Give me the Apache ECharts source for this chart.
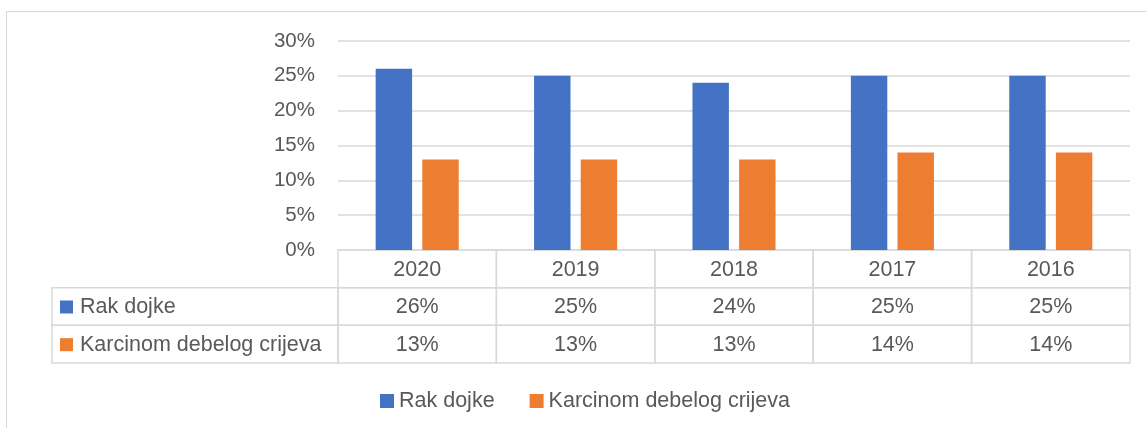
<!DOCTYPE html>
<html>
<head>
<meta charset="utf-8">
<script src="https://cdn.jsdelivr.net/npm/echarts@6/dist/echarts.min.js"></script>
<style>
html,body{margin:0;padding:0;background:#fff;}
#wrap{position:relative;width:1146px;height:428px;overflow:hidden;}
#chart{position:absolute;left:0;top:0;width:1146px;height:428px;}
#frame{position:absolute;left:6px;top:11px;width:1200px;height:500px;border:1px solid #d9d9d9;pointer-events:none;}
</style>
</head>
<body>
<div id="wrap"><div id="frame"></div><div id="chart"></div></div>
<script>
const categories = ['2020', '2019', '2018', '2017', '2016'];
const seriesNames = ['Rak dojke', 'Karcinom debelog crijeva'];
const rakDojke = [26, 25, 24, 25, 25];
const karcinom = [13, 13, 13, 14, 14];
const yTicks = [0, 5, 10, 15, 20, 25, 30];

const colors = ['#4472C4', '#ED7D31'];
const textColor = '#595959';
const borderColor = '#d9d9d9';
const fontFamily = '"Liberation Sans", Arial, sans-serif';
const fontSize = 21.5;
const smallFont = 20.5;

const valuesBySeries = [rakDojke, karcinom];
const rowKeys = ['header'].concat(seriesNames);

// table cells: [colIndex, rowIndex, text]
const cellData = [];
categories.forEach((c, i) => cellData.push([i, 0, c]));
valuesBySeries.forEach((vals, s) => vals.forEach((v, i) => cellData.push([i, s + 1, v + '%'])));
const labelData = seriesNames.map((n, s) => [0, s + 1, n, s]);

function cellRender(params, api) {
  const c = api.coord([api.value(0), api.value(1)]);
  const sz = api.size([1, 1]);
  return {
    type: 'group',
    children: [
      { type: 'rect', shape: { x: c[0] - sz[0] / 2, y: c[1] - sz[1] / 2, width: sz[0], height: sz[1] },
        style: { fill: 'none', stroke: borderColor, lineWidth: 1.5 } },
      { type: 'text', x: c[0], y: c[1] + 1,
        style: { text: cellData[params.dataIndex][2], fill: textColor, font: fontSize + 'px ' + fontFamily,
                 align: 'center', verticalAlign: 'middle' } }
    ]
  };
}
function labelRender(params, api) {
  const c = api.coord([api.value(0), api.value(1)]);
  const sz = api.size([1, 1]);
  const x0 = c[0] - sz[0] / 2;
  const d = labelData[params.dataIndex];
  return {
    type: 'group',
    children: [
      { type: 'rect', shape: { x: x0, y: c[1] - sz[1] / 2, width: sz[0], height: sz[1] },
        style: { fill: 'none', stroke: borderColor, lineWidth: 1.5 } },
      { type: 'rect', shape: { x: x0 + 8, y: c[1] - 6, width: 13, height: 13 },
        style: { fill: colors[d[3]] } },
      { type: 'text', x: x0 + 28, y: c[1] + 1,
        style: { text: d[2], fill: textColor, font: fontSize + 'px ' + fontFamily,
                 align: 'left', verticalAlign: 'middle' } }
    ]
  };
}

const chart = echarts.init(document.getElementById('chart'), null, { renderer: 'canvas' });
chart.setOption({
  animation: false,
  backgroundColor: 'transparent',
  textStyle: { fontFamily: fontFamily },
  legend: {
    data: seriesNames,
    left: 375, top: 385,
    itemWidth: 14, itemHeight: 14, itemGap: 35,
    icon: 'rect',
    textStyle: { fontSize: fontSize, color: textColor, fontFamily: fontFamily }
  },
  grid: [
    { left: 338, width: 792, top: 41, height: 209 },
    { left: 338, width: 792, top: 250, height: 113 },
    { left: 52, width: 286, top: 250, height: 113 }
  ],
  xAxis: [
    { gridIndex: 0, type: 'category', data: categories, axisLine: { show: false }, axisTick: { show: false }, axisLabel: { show: false } },
    { gridIndex: 1, type: 'category', data: categories, show: false },
    { gridIndex: 2, type: 'category', data: ['label'], show: false }
  ],
  yAxis: [
    { gridIndex: 0, type: 'value', min: 0, max: 30, interval: 5,
      axisLine: { show: false }, axisTick: { show: false },
      splitLine: { lineStyle: { color: borderColor, width: 1.5 } },
      axisLabel: { formatter: v => yTicks.includes(v) ? v + '%' : '', color: textColor, fontSize: smallFont, margin: 23, fontFamily: fontFamily } },
    { gridIndex: 1, type: 'category', data: rowKeys, inverse: true, show: false },
    { gridIndex: 2, type: 'category', data: rowKeys, inverse: true, show: false }
  ],
  series: [
    { name: seriesNames[0], type: 'bar', xAxisIndex: 0, yAxisIndex: 0, data: rakDojke,
      itemStyle: { color: colors[0] }, barWidth: '23%', barGap: '28%' },
    { name: seriesNames[1], type: 'bar', xAxisIndex: 0, yAxisIndex: 0, data: karcinom,
      itemStyle: { color: colors[1] }, barWidth: '23%', barGap: '28%' },
    { type: 'custom', xAxisIndex: 1, yAxisIndex: 1, data: cellData.map(d => [d[0], d[1]]), renderItem: cellRender, silent: true },
    { type: 'custom', xAxisIndex: 2, yAxisIndex: 2, data: labelData.map(d => [d[0], d[1]]), renderItem: labelRender, silent: true }
  ]
});
</script>
</body>
</html>
